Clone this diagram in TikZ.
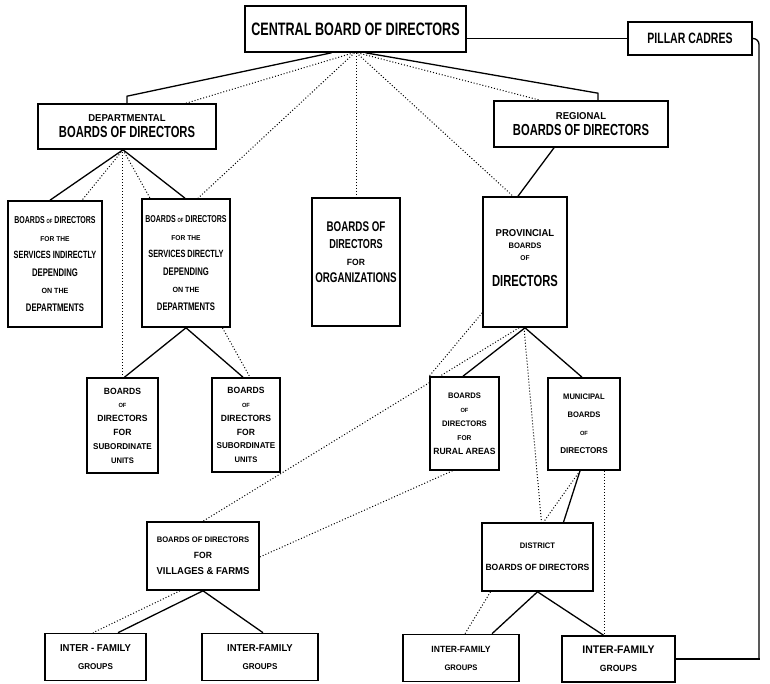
\documentclass[tikz,border=0pt]{standalone}
\usepackage{fontspec}
\setmainfont{Liberation Sans}
\newfontfamily\hndC{Liberation Sans}[FakeStretch=0.7]
\newfontfamily\hnd{Liberation Sans}[FakeStretch=0.95]
\usetikzlibrary{calc,backgrounds}
\newcommand\Lsz[2]{{\fontsize{#1}{#1}\selectfont #2}}
\tikzset{
  box/.style={draw, line width=1.6pt, fill=white, align=center, inner sep=1pt},
  sol/.style={line width=1.3pt},
  dotline/.style={line width=1pt, dash pattern=on 1pt off 2pt},
  hf/.style={font=\hnd\bfseries\fontsize{8}{#1}\selectfont},
}
\begin{document}
\begin{tikzpicture}[x=1pt,y=-1pt]
\useasboundingbox (0,0) rectangle (770,684);
% ---------- nodes ----------
\node[box, minimum width=221pt, minimum height=46pt, font=\hndC\bfseries\fontsize{18}{20}\selectfont] (c) at (355.5,29) {CENTRAL BOARD OF DIRECTORS};
\node[box, minimum width=124pt, minimum height=33pt, font=\hndC\bfseries\fontsize{15}{17}\selectfont] (p) at (690,38.5) {PILLAR CADRES};
\node[box, minimum width=178pt, minimum height=45pt, hf=16] (d) at (127,126.5) {\Lsz{10}{DEPARTMENTAL}\\{\hndC\Lsz{16}{BOARDS OF DIRECTORS}}};
\node[box, minimum width=174pt, minimum height=46pt, hf=16] (r) at (581,124) {\Lsz{10}{REGIONAL}\\{\hndC\Lsz{16}{BOARDS OF DIRECTORS}}};
\node[box, minimum width=94pt, minimum height=126pt, hf=17.5] (si) at (55,264) {{\hndC\Lsz{10}{BOARDS \Lsz{6}{OF} DIRECTORS}}\\\Lsz{7}{FOR THE}\\{\hndC\Lsz{10.5}{SERVICES INDIRECTLY}}\\{\hndC\Lsz{11}{DEPENDING}}\\\Lsz{7.5}{ON THE}\\{\hndC\Lsz{11}{DEPARTMENTS}}};
\node[box, minimum width=88pt, minimum height=128pt, hf=17.5] (sd) at (186,263) {{\hndC\Lsz{10}{BOARDS \Lsz{6}{OF} DIRECTORS}}\\\Lsz{7}{FOR THE}\\{\hndC\Lsz{10.5}{SERVICES DIRECTLY}}\\{\hndC\Lsz{11}{DEPENDING}}\\\Lsz{7.5}{ON THE}\\{\hndC\Lsz{11}{DEPARTMENTS}}};
\node[box, minimum width=88pt, minimum height=128pt, hf=17, text depth=20pt] (o) at (356,262) {{\hndC\Lsz{14}{BOARDS OF}}\\{\hndC\Lsz{13}{DIRECTORS}}\\\Lsz{9}{FOR}\\{\hndC\Lsz{14}{ORGANIZATIONS}}};
\node[box, minimum width=84pt, minimum height=130pt, hf=12, text depth=8pt] (pv) at (525,262) {\Lsz{10}{PROVINCIAL}\\\Lsz{8}{BOARDS}\\\Lsz{7}{OF}\\[14pt]{\hndC\Lsz{16}{DIRECTORS}}};
\node[box, minimum width=71pt, minimum height=95pt, hf=13.8] (s1) at (122.5,425.5) {\Lsz{9}{BOARDS}\\\Lsz{6}{OF}\\\Lsz{9}{DIRECTORS}\\\Lsz{9}{FOR}\\\Lsz{8.5}{SUBORDINATE}\\\Lsz{8}{UNITS}};
\node[box, minimum width=68pt, minimum height=94pt, hf=13.8] (s2) at (246,425) {\Lsz{9}{BOARDS}\\\Lsz{6}{OF}\\\Lsz{9}{DIRECTORS}\\\Lsz{9}{FOR}\\\Lsz{8.5}{SUBORDINATE}\\\Lsz{8}{UNITS}};
\node[box, minimum width=69pt, minimum height=93pt, hf=14] (ru) at (464.5,423.5) {\Lsz{8}{BOARDS}\\\Lsz{6}{OF}\\\Lsz{8}{DIRECTORS}\\\Lsz{7}{FOR}\\\Lsz{9}{RURAL AREAS}};
\node[box, minimum width=72pt, minimum height=92pt, hf=18] (mu) at (584,424) {\Lsz{8}{MUNICIPAL}\\\Lsz{8}{BOARDS}\\\Lsz{6}{OF}\\\Lsz{8.5}{DIRECTORS}};
\node[box, minimum width=112pt, minimum height=68pt, hf=16] (vi) at (203,556) {\Lsz{8}{BOARDS OF DIRECTORS}\\\Lsz{9}{FOR}\\\Lsz{10}{VILLAGES \& FARMS}};
\node[box, minimum width=111pt, minimum height=68pt, hf=22] (di) at (537.5,557) {\Lsz{8}{DISTRICT}\\\Lsz{9}{BOARDS OF DIRECTORS}};
\node[box, minimum width=101pt, minimum height=47pt, hf=18] (f1) at (95.5,657) {\Lsz{10}{INTER - FAMILY}\\\Lsz{8.5}{GROUPS}};
\node[box, minimum width=116pt, minimum height=47pt, hf=18] (f2) at (260,657) {\Lsz{10}{INTER-FAMILY}\\\Lsz{8.5}{GROUPS}};
\node[box, minimum width=116pt, minimum height=47pt, hf=18] (f3) at (461,658) {\Lsz{9}{INTER-FAMILY}\\\Lsz{8}{GROUPS}};
\node[box, minimum width=113pt, minimum height=46pt, hf=18] (f4) at (618.5,659) {\Lsz{11}{INTER-FAMILY}\\\Lsz{9}{GROUPS}};
\coordinate (k1) at (759,38.5);
\coordinate (k2) at (759,659);
\coordinate (mm) at ($(mu.south)+(20,0)$);
% ---------- connectors ----------
\begin{scope}[on background layer]
% solid
\draw[sol] (p.west) -- (p.west -| c.east);
\draw[sol, rounded corners=6pt] (p.east) -- (k1) -- (k2);
\draw[sol, line cap=rect] (k2) -- (f4.east);
\draw[sol] ($(c.south)+(-24,0)$) -- ($(d.north)+(0,-7)$) -- (d.north);
\draw[sol] ($(c.south)+(10,0)$) -- ($(r.north)+(17,-7)$) -- ($(r.north)+(17,0)$);
\draw[sol] ($(si.north)+(-5,0)$) -- ($(d.south)+(-4,0)$) -- ($(sd.north)+(-1,0)$);
\draw[sol] ($(s1.north)+(2,0)$) -- (sd.south) -- ($(s2.north)+(-3,0)$);
\draw[sol] ($(r.south)+(-27,0)$) -- ($(pv.north)+(-7,0)$);
\draw[sol] ($(ru.north)+(-1.5,0)$) -- (pv.south) -- ($(mu.north)+(-2,0)$);
\draw[sol] ($(mu.south)+(-4,0)$) -- ($(di.north)+(26,0)$);
\draw[sol] ($(f1.north)+(22.5,0)$) -- (vi.south) -- ($(f2.north)+(3,0)$);
\draw[sol] ($(f3.north)+(31,0)$) -- (di.south) -- ($(f4.north)+(-15,0)$);
% dotted
\draw[dotline] ($(c.south)+(-2,0)$) -- ($(d.north)+(59,0)$);
\draw[dotline] ($(c.south)+(-1,0)$) -- ($(sd.north)+(12,0)$);
\draw[dotline] (c.south -| o.north) -- (o.north);
\draw[dotline] ($(c.south)+(1,0)$) -- ($(pv.north)+(-12,0)$);
\draw[dotline] ($(c.south)+(2,0)$) -- ($(r.north)+(-41,0)$);
\draw[dotline] ($(d.south)+(-4,0)$) -- ($(si.north)+(27,0)$);
\draw[dotline] ($(d.south)+(-4,0)$) -- (d.south -| s1.north) -- (s1.north);
\draw[dotline] ($(d.south)+(-4,0)$) -- ($(s2.north)+(4,0)$);
\draw[dotline] ($(pv.south)+(-6,0)$) -- (vi.north);
\draw[dotline] ($(pv.south west)+(0,-15)$) -- (ru.north west);
\draw[dotline] ($(ru.south)+(-12,0)$) -- ($(vi.east)+(0,1)$);
\draw[dotline] ($(pv.south)+(-1,0)$) -- ($(di.north)+(4,0)$);
\draw[dotline] ($(mu.south)+(-4,0)$) -- ($(di.north)+(6,0)$);
\draw[dotline] (mm) -- (mm |- f4.north);
\draw[dotline] ($(vi.south)+(-23,0)$) -- ($(f1.north)+(-2.5,0)$);
\draw[dotline] ($(di.south)+(-47,0)$) -- ($(f3.north)+(4,0)$);
\end{scope}
\end{tikzpicture}
\end{document}
